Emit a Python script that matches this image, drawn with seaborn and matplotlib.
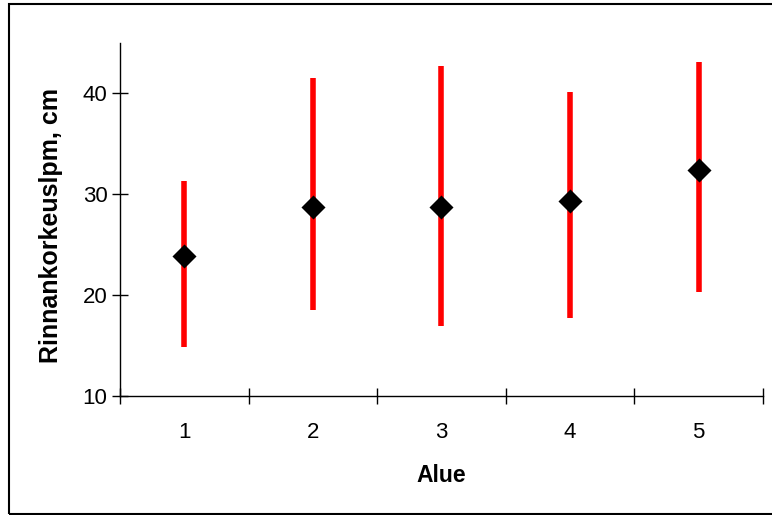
import matplotlib
matplotlib.use("Agg")
import matplotlib.pyplot as plt
import seaborn as sns
import pandas as pd
from matplotlib.patches import Rectangle

areas = [1, 2, 3, 4, 5]
means = [23.9, 28.7, 28.7, 29.3, 32.4]
lows = [14.9, 18.5, 16.9, 17.7, 20.3]
highs = [31.3, 41.5, 42.7, 40.1, 43.1]

df = pd.DataFrame({"Alue": areas, "mean": means, "low": lows, "high": highs})

sns.set_theme(style="white")
plt.rcParams["font.family"] = ["Liberation Sans", "DejaVu Sans"]
plt.rcParams["text.color"] = "black"
plt.rcParams["axes.labelcolor"] = "black"
plt.rcParams["xtick.color"] = "black"
plt.rcParams["ytick.color"] = "black"

fig = plt.figure(figsize=(7.72, 5.15), dpi=100)
ax = fig.add_axes([120/772, 1-396/515, (763-120)/772, (396-43)/515])

ax.vlines(df["Alue"], df["low"], df["high"], color="#ff0000", linewidth=4, zorder=2)
sns.scatterplot(data=df, x="Alue", y="mean", marker="D", s=150, color="black",
                edgecolor="black", linewidth=0, ax=ax, zorder=3, legend=False)

ax.set_xlim(0.5, 5.5)
ax.set_ylim(10, 45)
ax.set_yticks([10, 20, 30, 40])
ax.set_xticks(areas)
ax.set_xticklabels([str(a) for a in areas])
ax.set_xticks([0.5, 1.5, 2.5, 3.5, 4.5, 5.5], minor=True)
ax.tick_params(axis="x", which="major", length=0, pad=19, labelsize=16,
               labelcolor="black", bottom=True)
ax.tick_params(axis="x", which="minor", length=12, direction="inout", width=1,
               color="black", bottom=True)
ax.tick_params(axis="y", which="major", length=12, direction="inout", width=1,
               labelsize=16, pad=3, color="black", labelcolor="black", left=True)

for s in ["top", "right"]:
    ax.spines[s].set_visible(False)
for s in ["left", "bottom"]:
    ax.spines[s].set_color("black")
    ax.spines[s].set_linewidth(1)

ax.set_xlabel("Alue", fontsize=16.5, fontweight="bold", labelpad=15, color="black")
ax.set_ylabel("Rinnankorkeuslpm, cm", fontsize=18, fontweight="bold", color="black")
ax.yaxis.set_label_coords(-0.088, 0.484)

fig.patches.append(Rectangle((9/772, 1/515), 1.0, 1-5/515, transform=fig.transFigure,
                             fill=False, edgecolor="black", linewidth=1.5))

fig.savefig("out.png", dpi=100)
